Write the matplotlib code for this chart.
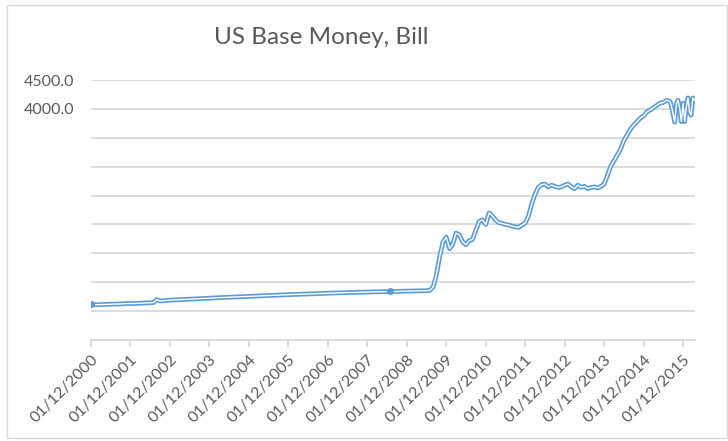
import numpy as np
import pandas as pd
import matplotlib.pyplot as plt
from matplotlib.patches import Rectangle

# US monetary base, billions
monthly_dates = pd.date_range("2000-01-01", "2014-09-01", freq="MS")
monthly_vals = [
    # 2000
    615, 612, 610, 612, 615, 617, 620, 622, 622, 624, 628, 632,
    # 2001
    630, 632, 634, 636, 640, 642, 645, 648, 700, 675, 680, 685,
    # 2002
    690, 692, 695, 698, 700, 705, 708, 710, 712, 715, 718, 722,
    # 2003
    725, 727, 730, 733, 735, 738, 740, 743, 745, 748, 750, 753,
    # 2004
    755, 757, 760, 762, 765, 768, 770, 772, 775, 777, 780, 783,
    # 2005
    785, 787, 789, 790, 792, 795, 797, 799, 800, 802, 805, 808,
    # 2006
    810, 812, 813, 815, 817, 819, 820, 822, 823, 825, 827, 830,
    # 2007
    831, 832, 833, 834, 835, 836, 837, 845, 839, 840, 842, 845,
    # 2008
    846, 847, 848, 849, 850, 852, 853, 860, 920, 1130, 1450, 1700,
    # 2009
    1780, 1580, 1650, 1850, 1820, 1700, 1650, 1720, 1740, 1900, 2050, 2080,
    # 2010
    2000, 2200, 2150, 2080, 2030, 2020, 2000, 1990, 1970, 1960, 1950, 1990,
    # 2011
    2025, 2150, 2350, 2520, 2640, 2690, 2700, 2650, 2680, 2660, 2640, 2650,
    # 2012
    2680, 2700, 2650, 2620, 2680, 2640, 2660, 2620, 2640, 2650, 2630, 2660,
    # 2013
    2700, 2850, 3000, 3100, 3200, 3300, 3450, 3550, 3650, 3720, 3780, 3840,
    # 2014 Jan-Sep
    3880, 3950, 3980, 4020, 4060, 4100, 4110, 4150, 4130,
]
tail_dates = pd.to_datetime([
    "2014-09-15", "2014-10-01", "2014-10-15", "2014-11-01", "2014-11-15",
    "2014-12-01", "2014-12-15", "2015-01-01", "2015-01-15", "2015-02-01",
    "2015-02-15", "2015-03-01", "2015-03-15", "2015-04-01", "2015-04-18",
])
tail_vals = [4050, 3900, 3770, 4100, 4150, 4000, 3780, 4100, 3780, 4050,
             4190, 3950, 3890, 4190, 4150]

years = list(range(2000, 2016))
tick_labels = ["01/12/%d" % y for y in years]

dates = monthly_dates.append(tail_dates)
values = np.array(monthly_vals + tail_vals, dtype=float)
x = dates.year + (dates.dayofyear - 1) / 365.25

blue = "#5B9BD5"
grey = "#595959"
grid = "#D9D9D9"
plt.rcParams["font.family"] = ["Lato", "DejaVu Sans"]

fig = plt.figure(figsize=(7.28, 4.41), dpi=100)
fig.patches.append(Rectangle((7 / 728, 3 / 441), 720 / 728, 433 / 441,
                             transform=fig.transFigure, fill=False,
                             edgecolor=grid, linewidth=1))

ax = fig.add_axes([91 / 728, 1 - 340 / 441, 604 / 728, 260 / 441])

ax.plot(x, values, color=blue, linewidth=3.4, solid_joinstyle="round")
ax.plot(x, values, color="white", linewidth=1.0, solid_joinstyle="round")
marked = [0, 91]
ax.plot(x[marked], values[marked], "o", color=blue, markersize=4)

ax.set_xlim(2000, 2015.3)
ax.set_ylim(0, 4500)
yt = np.arange(0, 4501, 500)
ax.set_yticks(yt)
ax.set_yticklabels(["%.1f" % v if v >= 4000 else "" for v in yt])
ax.tick_params(axis="y", length=0, pad=12, labelsize=11.5, labelcolor=grey)
ax.grid(axis="y", color=grid, linewidth=1.3)
ax.set_axisbelow(True)

ax.set_xticks(years)
ax.set_xticklabels(tick_labels, rotation=45, ha="right", va="top",
                   rotation_mode="anchor")
ax.tick_params(axis="x", length=5, width=1.3, color=grid, pad=4,
               labelsize=11.5, labelcolor=grey)

for s in ["top", "right", "left"]:
    ax.spines[s].set_visible(False)
ax.spines["bottom"].set_color(grid)
ax.spines["bottom"].set_linewidth(1.3)

fig.text(321 / 728, 1 - 38 / 441, "US Base Money, Bill", ha="center",
         va="center", fontsize=17.5, color=grey)

fig.savefig("out.png", dpi=100)
